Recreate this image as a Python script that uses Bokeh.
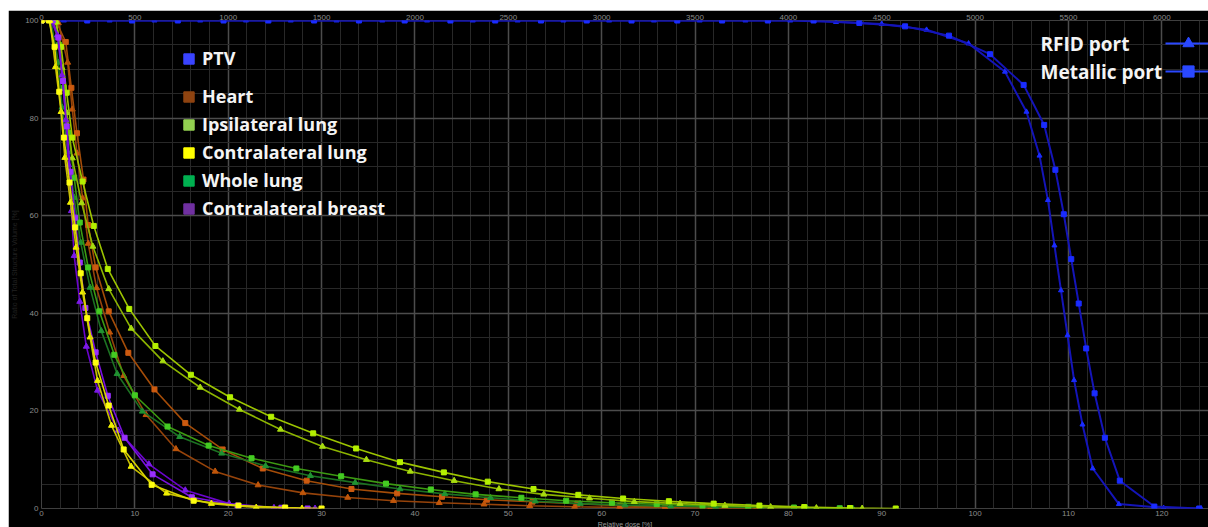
import numpy as np
from bokeh.plotting import figure
from bokeh.models import (Range1d, LinearAxis, SingleIntervalTicker, Legend,
                          LegendItem, Label, Title)
from bokeh.embed import file_html
from bokeh.resources import INLINE

# ---------------- data (relative dose [%], volume [%]) ----------------
ptv_rfid_dose = [0, 2.4, 7.3, 12.1, 17.0, 21.9, 26.7, 31.6, 36.5, 41.3, 46.2, 51.0, 55.9,
                 60.8, 65.6, 70.5, 75.4, 80.2, 85.1, 90.0, 94.8, 99.3, 103.2, 105.5, 106.9,
                 107.8, 108.5, 109.2, 109.9, 110.6, 111.5, 112.6, 115.4, 120.2, 124.2]
ptv_rfid_vol = [100, 100, 100, 100, 100, 100, 100, 100, 100, 100, 100, 100, 100,
                100, 100, 100, 100, 100, 99.7, 99.3, 98.1, 95.3, 89.5, 81.3, 72.3,
                63.2, 53.9, 44.7, 35.5, 26.3, 17.2, 8.2, 0.9, 0.1, 0]
ptv_metal_dose = [0, 4.9, 9.7, 14.6, 19.5, 24.3, 29.2, 34.0, 38.9, 43.8, 48.6, 53.5, 58.4,
                  63.2, 68.1, 72.9, 77.8, 82.7, 87.6, 92.5, 97.2, 101.6, 105.2, 107.4, 108.6,
                  109.5, 110.3, 111.1, 111.9, 112.8, 113.9, 115.5, 119.2, 124.0]
ptv_metal_vol = [100, 100, 100, 100, 100, 100, 100, 100, 100, 100, 100, 100, 100,
                 100, 100, 100, 100, 100, 99.5, 98.8, 96.9, 93.1, 86.8, 78.6, 69.4,
                 60.3, 51.1, 42.0, 32.8, 23.6, 14.5, 5.7, 0.4, 0]

heart_metal_dose = [0, 1.6, 2.6, 3.2, 3.8, 4.5, 5.0, 5.8, 7.2, 9.3, 12.1, 15.4, 19.4, 23.7,
                    28.4, 33.2, 38.1, 42.9, 47.7, 52.6, 57.4, 62.0, 66.8, 71.7, 76.6, 81.7]
heart_metal_vol = [100, 99.7, 95.6, 86.2, 76.9, 67.4, 58.1, 49.4, 40.4, 31.9, 24.4, 17.5, 12.1, 8.2,
                   5.7, 4.0, 3.1, 2.4, 1.8, 1.4, 1.0, 0.55, 0.27, 0.15, 0.06, 0]
heart_rfid_dose = [0, 1.8, 2.8, 3.3, 3.8, 4.4, 5.0, 5.9, 7.3, 8.8, 11.2, 14.4, 18.6, 23.2,
                   28.0, 32.8, 37.7, 42.6, 47.4, 52.3, 57.1, 61.9, 66.8, 71.6, 76.5]
heart_rfid_vol = [100, 99.5, 91.4, 81.8, 72.8, 63.6, 54.3, 45.2, 36.1, 27.2, 19.2, 12.2, 7.6, 4.8,
                  3.2, 2.25, 1.6, 1.17, 0.88, 0.55, 0.35, 0.2, 0.1, 0.05, 0]

ipsi_metal_dose = [0, 1.5, 2.1, 2.7, 3.3, 4.4, 5.6, 7.1, 9.4, 12.2, 16.0, 20.2, 24.6, 29.1,
                   33.7, 38.4, 43.1, 47.8, 52.7, 57.5, 62.3, 67.2, 72.0, 76.9, 81.7, 86.6, 91.5]
ipsi_metal_vol = [100, 99.8, 94.6, 85.2, 76.0, 67.0, 57.9, 49.1, 40.9, 33.3, 27.4, 22.8, 18.8, 15.4,
                  12.3, 9.5, 7.4, 5.5, 4.0, 2.8, 2.05, 1.5, 1.0, 0.6, 0.3, 0.1, 0]
ipsi_rfid_dose = [0, 1.6, 2.2, 2.7, 3.3, 4.3, 5.5, 7.2, 9.6, 13.0, 17.0, 21.2, 25.6, 30.1,
                  34.8, 39.5, 44.2, 49.0, 53.8, 58.7, 63.5, 68.4, 73.2, 78.1, 83.0, 87.9]
ipsi_rfid_vol = [100, 99.7, 90.3, 81.1, 71.8, 62.6, 53.7, 45.0, 36.9, 30.2, 24.8, 20.3, 16.2, 12.7,
                 10.0, 7.6, 5.7, 4.0, 2.9, 2.1, 1.4, 1.0, 0.6, 0.3, 0.1, 0]

contra_metal_dose = [0, 0.8, 1.4, 1.9, 2.4, 3.0, 3.6, 4.2, 4.9, 5.8, 7.2, 8.8, 11.8, 16.3,
                     21.1, 26.1, 30.0]
contra_metal_vol = [100, 100, 94.6, 85.4, 76.0, 66.8, 57.6, 48.2, 39.0, 29.9, 21.1, 12.1, 4.85, 1.6,
                    0.6, 0.2, 0]
contra_rfid_dose = [0, 0.9, 1.5, 2.1, 2.5, 3.1, 3.7, 4.4, 5.2, 6.0, 7.5, 9.6, 13.4, 18.2,
                    23.0, 27.9]
contra_rfid_vol = [100, 100, 90.5, 81.3, 71.9, 62.7, 53.5, 44.3, 35.1, 26.2, 17.0, 8.6, 3.1, 1.0,
                   0.2, 0]

whole_metal_dose = [0, 1.2, 1.9, 2.4, 2.9, 3.5, 4.1, 5.0, 6.2, 7.8, 10.0, 13.5, 17.9, 22.5,
                    27.3, 32.1, 36.9, 41.7, 46.5, 51.4, 56.2, 61.1, 65.9, 70.8, 75.7, 80.6, 85.5]
whole_metal_vol = [100, 100, 95.0, 86.2, 77.0, 67.8, 58.6, 49.4, 40.4, 31.5, 23.2, 16.8, 12.9, 10.3,
                   8.2, 6.6, 5.1, 3.9, 2.9, 2.2, 1.6, 1.17, 0.88, 0.55, 0.35, 0.2, 0.05]
whole_rfid_dose = [0, 1.0, 1.8, 2.2, 2.8, 3.5, 4.2, 5.2, 6.4, 8.1, 10.8, 14.8, 19.3, 24.0,
                   28.8, 33.6, 38.4, 43.2, 48.1, 52.9, 57.7, 62.5, 67.4, 72.2, 77.1, 82.0, 86.9]
whole_rfid_vol = [100, 100, 91.4, 82.2, 73.1, 63.7, 54.5, 45.3, 36.4, 27.6, 19.9, 14.7, 11.3, 8.7,
                  6.7, 5.3, 4.0, 3.0, 2.2, 1.5, 1.0, 0.7, 0.45, 0.3, 0.15, 0.05, 0]

breast_metal_dose = [0, 1.2, 1.8, 2.3, 2.7, 3.1, 3.6, 4.1, 4.7, 5.8, 7.1, 8.9, 11.9, 16.1,
                     21.0, 25.7, 28.5]
breast_metal_vol = [100, 100, 96.5, 87.6, 78.3, 69.0, 59.6, 50.4, 41.1, 32.0, 23.1, 14.5, 7.0, 2.3,
                    0.6, 0.15, 0]
breast_rfid_dose = [0, 1.0, 1.7, 2.2, 2.6, 2.9, 3.2, 3.5, 4.1, 4.8, 6.0, 8.2, 11.5, 15.4,
                    20.1, 24.9, 29.3]
breast_rfid_vol = [100, 100, 97.0, 88.8, 79.6, 70.4, 61.0, 51.8, 42.4, 33.2, 24.2, 16.0, 9.1, 3.75,
                   1.0, 0.15, 0]

structures = ["PTV", "Heart", "Ipsilateral lung", "Contralateral lung", "Whole lung",
              "Contralateral breast"]
legend_colors = ["#3a44ff", "#8e4310", "#92d050", "#ffff00", "#00b050", "#7030a0"]
port_labels = ["RFID port", "Metallic port"]

x_ticks_interval = 10
y_ticks_interval = 20
top_ticks_interval = 500
cgy_per_percent = 50  # 5000 cGy prescription = 100 %
X_END = 125.0

# ---------------- figure ----------------
p = figure(width=1200, height=517, x_range=Range1d(0, X_END), y_range=Range1d(0, 100),
           output_backend="svg", toolbar_location=None,
           background_fill_color="black", border_fill_color="black",
           outline_line_color=None,
           min_border_left=31, min_border_right=0, min_border_top=10, min_border_bottom=19)
p.margin = (10, 0, 0, 8)

bottom_axis = p.below[0]
left_axis = p.left[0]

xt = SingleIntervalTicker(interval=x_ticks_interval, num_minor_ticks=5)
yt = SingleIntervalTicker(interval=y_ticks_interval, num_minor_ticks=4)
bottom_axis.ticker = xt
p.xgrid.ticker = xt
left_axis.ticker = yt
p.ygrid.ticker = yt

for g in (p.xgrid[0], p.ygrid[0]):
    g.grid_line_color = "#4c4c4c"
    g.grid_line_width = 1.5
    g.minor_grid_line_color = "#282828"
    g.minor_grid_line_width = 1

p.extra_x_ranges = {"top": Range1d(0, X_END * cgy_per_percent)}
top_axis = LinearAxis(x_range_name="top",
                      ticker=SingleIntervalTicker(interval=top_ticks_interval, num_minor_ticks=0))
p.add_layout(top_axis, "above")


def style_axis(ax):
    ax.axis_line_color = None
    ax.major_tick_line_color = None
    ax.minor_tick_line_color = None
    ax.major_tick_out = 0
    ax.major_tick_in = 0
    ax.minor_tick_out = 0
    ax.minor_tick_in = 0
    ax.major_label_text_color = "#8c8c8c"
    ax.major_label_text_font = "Liberation Sans"
    ax.major_label_text_font_size = "8px"
    ax.major_label_standoff = 3
    ax.axis_label = None


style_axis(bottom_axis)
style_axis(left_axis)
style_axis(top_axis)
bottom_axis.major_label_standoff = 2
top_axis.major_label_standoff = 1
left_axis.axis_label = "Ratio of Total Structure Volume [%]"
left_axis.axis_label_text_color = "#222222"
left_axis.axis_label_text_font = "Liberation Sans"
left_axis.axis_label_text_font_size = "7px"
left_axis.axis_label_text_font_style = "normal"
left_axis.axis_label_standoff = 4

p.add_layout(Title(text="Relative dose [%]", align="center", text_font="Liberation Sans",
                   text_font_size="7px", text_font_style="normal", text_color="#9a9a9a",
                   standoff=0, offset=0), "below")

# ---------------- curves ----------------
series = [
    (ptv_rfid_dose, ptv_rfid_vol, "triangle", "#1414b8", "#1a2cff", 2.0, 5),
    (ptv_metal_dose, ptv_metal_vol, "square", "#1414b8", "#1a2cff", 2.0, 5),
    (heart_rfid_dose, heart_rfid_vol, "triangle", "#96430a", "#c0560a", 1.6, 6),
    (heart_metal_dose, heart_metal_vol, "square", "#a44c08", "#cc5a10", 1.6, 5),
    (whole_rfid_dose, whole_rfid_vol, "triangle", "#1c7222", "#209232", 1.6, 6),
    (whole_metal_dose, whole_metal_vol, "square", "#3c9a12", "#44cc22", 1.6, 5),
    (ipsi_rfid_dose, ipsi_rfid_vol, "triangle", "#8cb400", "#a8dc10", 1.6, 6),
    (ipsi_metal_dose, ipsi_metal_vol, "square", "#9cc400", "#b4f000", 1.6, 5),
    (breast_rfid_dose, breast_rfid_vol, "triangle", "#6a04cc", "#7c1ae8", 1.6, 6),
    (breast_metal_dose, breast_metal_vol, "square", "#7a10e0", "#9a30ff", 1.6, 5),
    (contra_rfid_dose, contra_rfid_vol, "triangle", "#c8c000", "#f0f000", 1.6, 6),
    (contra_metal_dose, contra_metal_vol, "square", "#d8d400", "#ffff10", 1.6, 5),
]
for d, v, mk, lc, mc, lw, ms in series:
    p.line(d, v, line_color=lc, line_width=lw)
    p.scatter(d, v, marker=mk, size=ms, fill_color=mc, line_color=mc)

# ---------------- legends (key glyphs only, no visible data) ----------------
nan1 = np.array([np.nan])
key_renderers = []
for c in legend_colors:
    key_renderers.append(p.quad(left=nan1, right=nan1, top=nan1, bottom=nan1,
                                fill_color=c, line_color=c))

common = dict(glyph_width=13, glyph_height=13, label_standoff=7,
              label_text_font="Open Sans", label_text_font_style="bold",
              label_text_font_size="18px", label_text_color="#f4f4f4",
              background_fill_alpha=0, border_line_color=None,
              padding=0, margin=0, label_height=20)

leg_ptv = Legend(items=[LegendItem(label=structures[0], renderers=[key_renderers[0]])],
                 location=(141, 438), spacing=4, **common)
leg_oar = Legend(items=[LegendItem(label=s, renderers=[r])
                        for s, r in zip(structures[1:], key_renderers[1:])],
                 location=(141, 288), spacing=4, **common)
p.add_layout(leg_ptv)
p.add_layout(leg_oar)

port_line_r = p.line(nan1, nan1, line_color="#2a48ff", line_width=2)
port_tri_r = p.scatter(nan1, nan1, marker="triangle", fill_color="#2a48ff", line_color="#2a48ff")
port_sq_r = p.scatter(nan1, nan1, marker="square", fill_color="#2a48ff", line_color="#2a48ff")
leg_port = Legend(items=[LegendItem(label=" ", renderers=[port_line_r, port_tri_r]),
                         LegendItem(label=" ", renderers=[port_line_r, port_sq_r])],
                  location=(1124, 423), glyph_width=46, glyph_height=28,
                  label_standoff=0, label_width=0, label_height=1,
                  label_text_font_size="1px", spacing=0, padding=0, margin=0,
                  background_fill_alpha=0, border_line_color=None)
p.add_layout(leg_port)

for i, txt in enumerate(port_labels):
    p.add_layout(Label(x=999, y=465 - 28 * i, x_units="screen", y_units="screen",
                       text=txt, text_font="Open Sans", text_font_style="bold",
                       text_font_size="19px", text_color="#f4f4f4",
                       text_baseline="middle", text_align="left"))

open("out.html", "w").write(file_html(p, INLINE))
